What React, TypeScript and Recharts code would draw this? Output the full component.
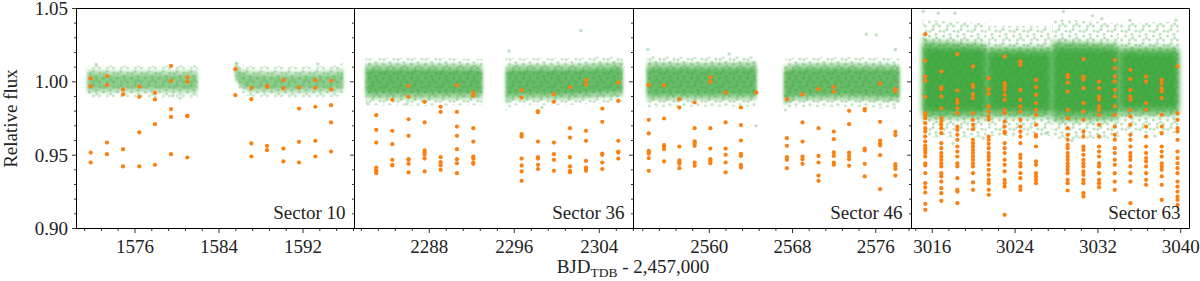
import React from 'react';
import { ComposedChart, Area, Scatter, XAxis, YAxis, ReferenceArea } from 'recharts';

const FONT = 'Liberation Serif, DejaVu Serif, serif';
const FS = 19;
const GREEN = '#2ca02c';
const ORANGE = '#ff7f0e';

// ---------- panel meta ----------
const sectorNames = ['Sector 10', 'Sector 36', 'Sector 46', 'Sector 63'];
const xDomains: [number, number][] = [
  [1570.43, 1596.9],
  [2280.96, 2307.22],
  [2552.71, 2579.44],
  [3013.99, 3040.85],
];
const majorTicks: number[][] = [
  [1576, 1584, 1592],
  [2288, 2296, 2304],
  [2560, 2568, 2576],
  [3016, 3024, 3032, 3040],
];
const yDomain: [number, number] = [0.9, 1.05];
const yTicks = [0.9, 0.91, 0.92, 0.93, 0.94, 0.95, 0.96, 0.97, 0.98, 0.99, 1.0, 1.01, 1.02, 1.03, 1.04, 1.05];
const yLabel = 'Relative flux';
const xLabelMain = 'BJD';
const xLabelSub = 'TDB';
const xLabelTail = ' - 2,457,000';

// ---------- green flux cloud envelopes: [t, fringeLo, fringeHi, bodyLo, bodyHi, coreLo, coreHi]; [t] = gap ----------
type CloudRow = (number | null)[];
const cloud10: CloudRow[] = [
  [1571.45, 0.989, 1.0115, 0.992, 1.0085, 0.995, 1.0055],
  [1574.0, 0.9895, 1.011, 0.9925, 1.0075, 0.9955, 1.0045],
  [1578.0, 0.989, 1.011, 0.9925, 1.0078, 0.9955, 1.0048],
  [1581.95, 0.9885, 1.0115, 0.992, 1.008, 0.995, 1.005],
  [1583.7],
  [1585.5, 1.002, 1.014, 1.004, 1.012, 1.006, 1.01],
  [1586.0, 0.993, 1.012, 0.996, 1.009, 0.998, 1.006],
  [1587.0, 0.9895, 1.011, 0.9925, 1.0075, 0.9955, 1.0045],
  [1591.5, 0.989, 1.0105, 0.992, 1.007, 0.995, 1.004],
  [1595.0, 0.9895, 1.011, 0.9925, 1.008, 0.9955, 1.005],
  [1595.85, 0.991, 1.013, 0.9935, 1.0095, 0.9965, 1.006],
];
const cloud36: CloudRow[] = [
  [2282.0, 0.984, 1.016, 0.9885, 1.0125, 0.992, 1.0085],
  [2287.5, 0.9835, 1.0165, 0.988, 1.0125, 0.9918, 1.0085],
  [2293.0, 0.984, 1.0155, 0.9885, 1.012, 0.992, 1.008],
  [2294.1],
  [2295.2, 0.98, 1.017, 0.985, 1.011, 0.989, 1.007],
  [2295.8, 0.984, 1.016, 0.988, 1.012, 0.9915, 1.008],
  [2301.0, 0.984, 1.016, 0.988, 1.012, 0.9915, 1.0082],
  [2306.2, 0.986, 1.0175, 0.99, 1.0135, 0.9935, 1.0095],
];
const cloud46: CloudRow[] = [
  [2553.98, 0.9825, 1.0175, 0.9875, 1.0135, 0.991, 1.0095],
  [2559.0, 0.983, 1.017, 0.9878, 1.013, 0.9912, 1.0092],
  [2564.54, 0.983, 1.0175, 0.9878, 1.0135, 0.9912, 1.0095],
  [2565.9],
  [2567.17, 0.979, 1.015, 0.984, 1.011, 0.988, 1.007],
  [2568.2, 0.9825, 1.0165, 0.9872, 1.0125, 0.9908, 1.009],
  [2573.0, 0.983, 1.017, 0.9878, 1.013, 0.9912, 1.0092],
  [2578.3, 0.9815, 1.016, 0.9865, 1.012, 0.99, 1.0085],
];
const cloud63: CloudRow[] = [
  [3015.07, 0.962, 1.044, 0.974, 1.031, 0.979, 1.025],
  [3015.6, 0.962, 1.042, 0.975, 1.028, 0.98, 1.023],
  [3021.25, 0.962, 1.04, 0.975, 1.026, 0.98, 1.022],
  [3021.32],
  [3021.4, 0.963, 1.038, 0.976, 1.024, 0.981, 1.02],
  [3027.45, 0.963, 1.038, 0.9755, 1.024, 0.9805, 1.02],
  [3027.52],
  [3027.6, 0.961, 1.043, 0.973, 1.028, 0.979, 1.023],
  [3034.0, 0.9615, 1.04, 0.974, 1.026, 0.9795, 1.022],
  [3034.07],
  [3034.15, 0.965, 1.04, 0.977, 1.024, 0.982, 1.02],
  [3039.8, 0.965, 1.041, 0.977, 1.024, 0.982, 1.02],
];

// ---------- isolated green points ----------
const stray10: [number, number][] = [[1579.6, 0.9905], [1580.3, 0.9888], [1585.7, 1.0125], [1572.3, 1.0118], [1593.4, 1.0121]];
const stray36: [number, number][] = [[2302.27, 1.035], [2295.5, 1.021], [2282.2, 0.985], [2285.9, 0.985], [2298.6, 0.9825]];
const stray46: [number, number][] = [[2575.1, 1.0325], [2576.06, 1.032], [2564.48, 0.97], [2554.1, 1.022], [2561.9, 1.019], [2577.9, 1.022]];
const stray63: [number, number][] = [
  [3015.13, 1.048], [3016.58, 1.0468], [3018.19, 1.0468], [3028.67, 1.048], [3031.47, 1.045],
  [3032.37, 1.043], [3035.1, 1.042], [3039.56, 1.042], [3020.93, 0.9616], [3026.96, 0.965],
  [3018.0, 0.958], [3029.5, 0.96], [3037.5, 0.963],
];

// ---------- orange in-transit points: [time, fluxes in that transit] ----------
type Transit = [number, number[]];
const transit10: Transit[] = [
  [1571.78, [1.0023, 0.997, 0.9518, 0.945]],
  [1573.33, [1.0039, 0.9977, 0.9586, 0.9507]],
  [1574.86, [0.9948, 0.9914, 0.9541, 0.9423]],
  [1576.41, [0.9968, 0.9898, 0.9655, 0.9423]],
  [1577.9, [0.9925, 0.988, 0.9711, 0.9434]],
  [1579.43, [1.0109, 1.0007, 0.9814, 0.9761, 0.9507]],
  [1580.98, [1.003, 1.0, 0.977, 0.9766, 0.9484]],
  [1585.56, [1.0086, 0.9909]],
  [1587.08, [0.9959, 0.9882, 0.958, 0.9491]],
  [1588.57, [0.9964, 0.9973, 0.9564, 0.9534]],
  [1590.13, [1.0011, 0.9955, 0.9545, 0.9457]],
  [1591.62, [0.9961, 0.9818, 0.9591, 0.945]],
  [1593.17, [1.0011, 0.9959, 0.983, 0.9598, 0.9491]],
  [1594.67, [1.0007, 0.9948, 0.9841, 0.9723, 0.9525]],
];
const transit36: Transit[] = [
  [2283.01, [0.9773, 0.9673, 0.9586, 0.9416, 0.94, 0.9389, 0.9377]],
  [2284.52, [0.9877, 0.9666, 0.9575, 0.9468, 0.9434, 0.943]],
  [2286.05, [0.9973, 0.9898, 0.9745, 0.9632, 0.9473, 0.9468, 0.9441, 0.9382]],
  [2287.56, [0.9864, 0.9723, 0.9532, 0.9518, 0.9502, 0.9477, 0.9389]],
  [2289.07, [0.983, 0.9795, 0.9486, 0.9452, 0.943, 0.94]],
  [2290.6, [0.9977, 0.9795, 0.9695, 0.9632, 0.9541, 0.9473, 0.9445, 0.9377]],
  [2292.14, [0.9927, 0.9905, 0.9684, 0.9593, 0.9491, 0.9477, 0.945, 0.9441]],
  [2296.69, [0.9943, 0.9893, 0.9643, 0.9627, 0.9477, 0.943, 0.9389, 0.9325]],
  [2298.23, [0.98, 0.9793, 0.9593, 0.9486, 0.9477, 0.9434, 0.9405]],
  [2299.73, [0.9916, 0.9864, 0.9586, 0.9507, 0.9468, 0.9393]],
  [2301.24, [0.9964, 0.9684, 0.962, 0.9486, 0.9423, 0.9393, 0.9384]],
  [2302.75, [1.0011, 0.9982, 0.9666, 0.9598, 0.9461, 0.9416, 0.9405, 0.9393]],
  [2304.28, [0.9818, 0.9727, 0.9511, 0.9502, 0.945, 0.9405]],
  [2305.79, [0.9995, 0.987, 0.9598, 0.9525, 0.9518, 0.9477]],
];
const transit46: Transit[] = [
  [2554.18, [0.998, 0.9977, 0.9741, 0.9648, 0.953, 0.9518, 0.9511, 0.948, 0.9393]],
  [2555.65, [0.9977, 0.975, 0.9568, 0.9555, 0.9541, 0.9457]],
  [2557.12, [0.9882, 0.9825, 0.9559, 0.9464, 0.9452, 0.9441, 0.9411]],
  [2558.59, [0.9859, 0.9684, 0.9595, 0.9582, 0.9564, 0.945, 0.9427]],
  [2560.1, [1.003, 1.0, 0.9684, 0.9545, 0.9473, 0.9459, 0.9445]],
  [2561.57, [0.9927, 0.9723, 0.9545, 0.9502, 0.945, 0.9382]],
  [2563.04, [0.9825, 0.9705, 0.96, 0.9509, 0.9495, 0.9434, 0.9416]],
  [2564.51, [0.9927]],
  [2567.46, [0.9882, 0.9616, 0.9564, 0.9486, 0.9468, 0.9411]],
  [2568.96, [0.9914, 0.9723, 0.9593, 0.9491, 0.9473, 0.9441]],
  [2570.5, [0.995, 0.9684, 0.9495, 0.945, 0.9361, 0.9325]],
  [2571.97, [0.9964, 0.9932, 0.9661, 0.9609, 0.952, 0.9495, 0.945, 0.9434]],
  [2573.44, [0.9802, 0.9711, 0.9518, 0.9495, 0.9473, 0.9427]],
  [2574.94, [0.9814, 0.9805, 0.9545, 0.9532, 0.9441, 0.9355]],
  [2576.42, [0.9989, 0.9727, 0.96, 0.9582, 0.9566, 0.95, 0.9268]],
  [2577.89, [0.995, 0.9936, 0.9659, 0.9636, 0.9439, 0.9423, 0.9405, 0.9361]],
];
const transit63: Transit[] = [
  [3015.32, [1.0325, 1.0145, 1.0036, 1.0007, 0.9898, 0.9786, 0.977, 0.9752, 0.9718, 0.9684, 0.9661, 0.9627, 0.9593, 0.9564, 0.9548, 0.9532, 0.9514, 0.9491, 0.9445, 0.943, 0.9377, 0.9309, 0.928, 0.9245, 0.9168, 0.9127]],
  [3016.87, [1.007, 0.9964, 0.995, 0.99, 0.982, 0.9752, 0.973, 0.9707, 0.9684, 0.965, 0.9582, 0.9548, 0.9514, 0.9491, 0.9468, 0.9445, 0.9423, 0.9377, 0.9355, 0.932, 0.9275, 0.9241, 0.9189]],
  [3018.42, [1.0189, 0.9941, 0.9877, 0.9855, 0.982, 0.9786, 0.9695, 0.9673, 0.9639, 0.9605, 0.9559, 0.9525, 0.9491, 0.9445, 0.9423, 0.9343, 0.9264, 0.9252, 0.9173]],
  [3019.93, [1.0105, 0.998, 0.9964, 0.9916, 0.9889, 0.9786, 0.9741, 0.9707, 0.9677, 0.9605, 0.9582, 0.9559, 0.9536, 0.9514, 0.9491, 0.9468, 0.9445, 0.9423, 0.9377, 0.9314, 0.9264]],
  [3021.45, [1.0025, 0.995, 0.9918, 0.9832, 0.9798, 0.9764, 0.9741, 0.9627, 0.9605, 0.9577, 0.9548, 0.9514, 0.9491, 0.9468, 0.9434, 0.94, 0.9366, 0.9332, 0.9309, 0.9264, 0.923]],
  [3022.99, [1.0173, 0.9991, 0.9968, 0.9945, 0.9911, 0.9877, 0.9809, 0.9786, 0.973, 0.9695, 0.9661, 0.965, 0.9582, 0.9548, 0.9514, 0.9468, 0.9434, 0.9389, 0.9332, 0.9309, 0.9286, 0.9093]],
  [3024.51, [1.0139, 1.0116, 0.9945, 0.9877, 0.9832, 0.9798, 0.9741, 0.9695, 0.9661, 0.9627, 0.9582, 0.9502, 0.948, 0.9445, 0.9423, 0.9377, 0.9343, 0.9286, 0.9264]],
  [3026.02, [1.0014, 0.9964, 0.9911, 0.9855, 0.9809, 0.9775, 0.9707, 0.9639, 0.9627, 0.9559, 0.9457, 0.9434, 0.9377, 0.9355, 0.9332, 0.9309]],
  [3029.08, [1.0048, 1.0032, 0.9995, 0.9934, 0.9809, 0.9752, 0.9684, 0.9639, 0.9605, 0.957, 0.9548, 0.9514, 0.9491, 0.9468, 0.9445, 0.9423, 0.94, 0.9377, 0.9332, 0.9309, 0.9259]],
  [3030.6, [1.0155, 1.0036, 1.0018, 0.9957, 0.9855, 0.9798, 0.9741, 0.9661, 0.9627, 0.9559, 0.9536, 0.9502, 0.9468, 0.9445, 0.9423, 0.9389, 0.9366, 0.9332, 0.9309, 0.9241, 0.9218]],
  [3032.11, [1.0002, 0.9957, 0.99, 0.9877, 0.9832, 0.9809, 0.9775, 0.9707, 0.9627, 0.9559, 0.9525, 0.9491, 0.9445, 0.9423, 0.9377, 0.9332, 0.9309, 0.9282]],
  [3033.63, [1.015, 1.0093, 1.0036, 1.0002, 0.9945, 0.99, 0.9832, 0.9775, 0.9695, 0.9639, 0.9605, 0.9548, 0.9514, 0.9468, 0.9434, 0.9377, 0.932, 0.9264]],
  [3035.14, [1.0082, 1.0018, 0.9945, 0.99, 0.9877, 0.9809, 0.9764, 0.9707, 0.9639, 0.9605, 0.9559, 0.9514, 0.9491, 0.9468, 0.9423, 0.9377, 0.932, 0.9173]],
  [3036.66, [1.0036, 1.0002, 0.9855, 0.9809, 0.9695, 0.9627, 0.9559, 0.9514, 0.948, 0.9457, 0.9423, 0.9377, 0.9332, 0.9298]],
  [3038.17, [1.0014, 0.9991, 0.9957, 0.9934, 0.9889, 0.9775, 0.9695, 0.965, 0.9559, 0.9525, 0.9491, 0.9445, 0.9423, 0.94, 0.9355, 0.9298, 0.9195]],
  [3039.69, [1.0105, 0.9786, 0.9741, 0.9684, 0.9661, 0.9605, 0.9525, 0.948, 0.9445, 0.9411, 0.9377, 0.932, 0.9286, 0.9252, 0.9218, 0.9195, 0.9161]],
];

const clouds = [cloud10, cloud36, cloud46, cloud63];
const strays = [stray10, stray36, stray46, stray63];
const transits = [transit10, transit36, transit46, transit63];

// layout (styles only)
const edges = [76.5, 354.5, 633.5, 911.5, 1189.5];
const W = 1200;
const H = 281;
const TOP = 8.5;
const XAXIS_H = 52.5;
const YAXIS_W = 10;
const opac = [
  { fringe: 0.8, body: 0.3, core: 0.35, blur: 'soft' },
  { fringe: 0.9, body: 0.42, core: 0.5, blur: 'soft' },
  { fringe: 0.9, body: 0.42, core: 0.5, blur: 'soft' },
  { fringe: 1, body: 0.62, core: 0.7, blur: 'softer' },
];

const toRows = (c: CloudRow[]) =>
  c.map((r) =>
    r.length < 7
      ? { t: r[0], fringe: null, body: null, core: null }
      : { t: r[0], fringe: [r[1], r[2]], body: [r[3], r[4]], core: [r[5], r[6]] }
  );
const toPoints = (tr: Transit[]) => tr.flatMap(([t, fs]) => fs.map((f) => ({ t, f })));
const toStray = (s: [number, number][]) => s.map(([t, f]) => ({ t, f }));

const xTickList = (majors: number[], dom: [number, number]) => {
  const out: number[] = [];
  for (let k = -10; k <= 40; k++) {
    const v = Math.round((majors[0] + k * 1.6) * 10) / 10;
    if (v >= dom[0] && v <= dom[1]) out.push(v);
  }
  return out;
};

const isMajorX = (v: number) => Math.abs(v / 8 - Math.round(v / 8)) < 1e-6;
const isMajorY = (v: number) => Math.abs(v * 20 - Math.round(v * 20)) < 1e-6;

const XTick = (props: any) => {
  const { x, y, payload } = props;
  const v = payload.value as number;
  const major = isMajorX(v);
  return (
    <g>
      <line x1={x} x2={x} y1={y} y2={y + (major ? 4.5 : 2.5)} stroke="#000" strokeWidth={0.8} />
      {major && (
        <text x={x} y={y + 24} textAnchor="middle" fontFamily={FONT} fontSize={FS} fill="#222">
          {Math.round(v)}
        </text>
      )}
    </g>
  );
};

const YTick = (props: any) => {
  const { x, y, payload, showLabels } = props;
  const v = payload.value as number;
  const major = isMajorY(v);
  return (
    <g>
      <line x1={x - (major ? 4.5 : 2.5)} x2={x} y1={y} y2={y} stroke="#000" strokeWidth={0.8} />
      {showLabels && major && (
        <text x={x - 8.5} y={y} dy="0.35em" textAnchor="end" fontFamily={FONT} fontSize={FS} fill="#222">
          {v.toFixed(2)}
        </text>
      )}
    </g>
  );
};

const orangeDot = (p: any) => <circle cx={p.cx} cy={p.cy} r={2.1} fill={ORANGE} />;
const greenDot = (p: any) => <circle cx={p.cx} cy={p.cy} r={1.7} fill={GREEN} fillOpacity={0.3} />;

export default function App() {
  return (
    <div style={{ position: 'absolute', left: 0, top: 0, width: W, height: H, background: '#fff' }}>
      <svg width={0} height={0} style={{ position: 'absolute' }}>
        <defs>
          <pattern id="dots" patternUnits="userSpaceOnUse" width={14} height={14}>
            <circle cx={2} cy={3} r={1.6} fill={GREEN} fillOpacity={0.3} />
            <circle cx={9} cy={1.5} r={1.6} fill={GREEN} fillOpacity={0.3} />
            <circle cx={5.5} cy={8} r={1.6} fill={GREEN} fillOpacity={0.3} />
            <circle cx={12} cy={6.5} r={1.6} fill={GREEN} fillOpacity={0.3} />
            <circle cx={1.5} cy={12} r={1.6} fill={GREEN} fillOpacity={0.3} />
            <circle cx={9.5} cy={12} r={1.6} fill={GREEN} fillOpacity={0.3} />
            <circle cx={6} cy={3.5} r={1.6} fill={GREEN} fillOpacity={0.3} />
            <circle cx={12.5} cy={10} r={1.6} fill={GREEN} fillOpacity={0.3} />
          </pattern>
          <filter id="soft" x="-5%" y="-30%" width="110%" height="160%">
            <feGaussianBlur stdDeviation="1.6" />
          </filter>
          <filter id="softer" x="-5%" y="-30%" width="110%" height="160%">
            <feGaussianBlur stdDeviation="2.6" />
          </filter>
        </defs>
      </svg>
      {clouds.map((c, i) => {
        const dom = xDomains[i];
        return (
          <div key={i} style={{ position: 'absolute', left: 0, top: 0 }}>
            <ComposedChart
              width={W}
              height={H}
              data={toRows(c)}
              margin={{ top: TOP, bottom: 0, left: edges[i] - YAXIS_W, right: W - edges[i + 1] }}
            >
              <XAxis
                dataKey="t"
                type="number"
                domain={dom}
                allowDataOverflow
                ticks={xTickList(majorTicks[i], dom)}
                interval={0}
                tick={<XTick />}
                tickLine={false}
                axisLine={false}
                tickSize={0}
                tickMargin={0}
                height={XAXIS_H}
              />
              <YAxis
                type="number"
                domain={yDomain}
                allowDataOverflow
                ticks={yTicks}
                interval={0}
                tick={<YTick showLabels={i === 0} />}
                tickLine={false}
                axisLine={false}
                tickSize={0}
                tickMargin={0}
                width={YAXIS_W}
              />
              <Area
                dataKey="fringe"
                type="linear"
                stroke="none"
                fill="url(#dots)"
                fillOpacity={opac[i].fringe}
                isAnimationActive={false}
                dot={false}
                activeDot={false}
              />
              <Area
                dataKey="body"
                type="linear"
                stroke="none"
                fill={GREEN}
                fillOpacity={opac[i].body}
                filter={`url(#${opac[i].blur})`}
                isAnimationActive={false}
                dot={false}
                activeDot={false}
              />
              <Area
                dataKey="core"
                type="linear"
                stroke="none"
                fill={GREEN}
                fillOpacity={opac[i].core}
                filter={`url(#${opac[i].blur})`}
                isAnimationActive={false}
                dot={false}
                activeDot={false}
              />
              <Scatter data={toStray(strays[i])} dataKey="f" shape={greenDot} isAnimationActive={false} />
              <Scatter data={toPoints(transits[i])} dataKey="f" shape={orangeDot} isAnimationActive={false} />
              <ReferenceArea
                x1={dom[0]}
                x2={dom[1]}
                y1={yDomain[0]}
                y2={yDomain[1]}
                fill="none"
                stroke="#000"
                strokeWidth={1}
                ifOverflow="visible"
              />
            </ComposedChart>
          </div>
        );
      })}
      <svg width={W} height={H} style={{ position: 'absolute', left: 0, top: 0, pointerEvents: 'none' }}>
        <text
          transform="translate(16.5,118.5) rotate(-90)"
          textAnchor="middle"
          fontFamily={FONT}
          fontSize={FS}
          fill="#222"
        >
          {yLabel}
        </text>
        <text x={633} y={272.5} textAnchor="middle" fontFamily={FONT} fontSize={FS} fill="#222">
          {xLabelMain}
          <tspan fontSize={13.5} dy={4}>{xLabelSub}</tspan>
          <tspan dy={-4}>{xLabelTail}</tspan>
        </text>
        {sectorNames.map((s, i) => (
          <text key={s} x={edges[i + 1] - 9} y={219.3} textAnchor="end" fontFamily={FONT} fontSize={FS} fill="#222">
            {s}
          </text>
        ))}
      </svg>
    </div>
  );
}
